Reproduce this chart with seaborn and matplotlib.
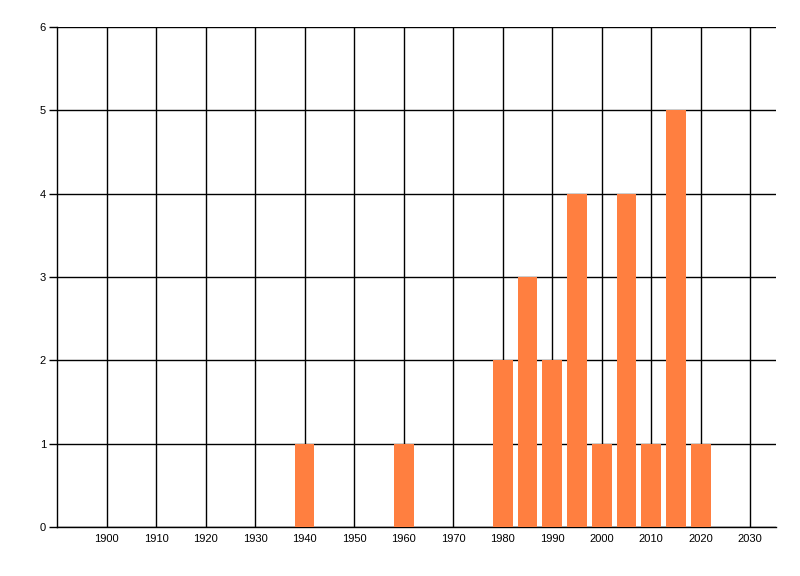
import matplotlib
matplotlib.use("Agg")
from matplotlib import pyplot as plt
import seaborn as sns
import pandas as pd

# data
years = [1940, 1960, 1980, 1985, 1990, 1995, 2000, 2005, 2010, 2015, 2020]
counts = [1, 1, 2, 3, 2, 4, 1, 4, 1, 5, 1]
x_ticks = list(range(1900, 2031, 10))
y_ticks = [0, 1, 2, 3, 4, 5, 6]

df = pd.DataFrame({"year": years, "count": counts})

sns.set_style("white")
plt.rcParams['font.family'] = ['Liberation Sans', 'DejaVu Sans']

fig = plt.figure(figsize=(8, 5.76), dpi=100)
ax = fig.add_axes([57 / 800, 49 / 576, 719 / 800, 500 / 576])

sns.barplot(df, x="year", y="count", native_scale=True, width=0.8,
            color="#FF7F40", saturation=1, ax=ax, zorder=3, linewidth=0)

ax.set_xlim(1890, 2035.2)
ax.set_ylim(0, 6)
ax.set_xticks(x_ticks)
ax.set_yticks(y_ticks)
ax.grid(True, color="black", linewidth=1)
ax.set_axisbelow(True)
for s in ["top", "right"]:
    ax.spines[s].set_visible(False)
for s in ["left", "bottom"]:
    ax.spines[s].set_color("black")
    ax.spines[s].set_linewidth(1)
ax.tick_params(axis="x", length=0, pad=5, labelsize=8, colors="black")
ax.tick_params(axis="y", length=6, width=1, pad=2, labelsize=8, colors="black", left=True)
ax.set_xlabel("")
ax.set_ylabel("")

fig.savefig("out.png", dpi=100)
